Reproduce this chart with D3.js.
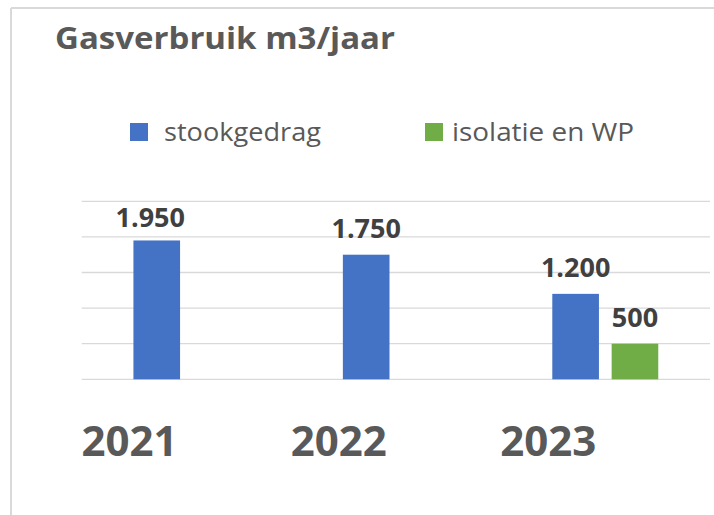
<!DOCTYPE html>
<html>
<head>
<meta charset="utf-8">
<script src="https://cdn.jsdelivr.net/npm/d3@7"></script>
<style>
  body { margin: 0; background: #fff; }
  svg { display: block; font-family: "Open Sans", sans-serif; }
</style>
</head>
<body>
<svg id="chart" width="714" height="515"></svg>
<script>
// data
const years = ["2021", "2022", "2023"];
const seriesNames = ["stookgedrag", "isolatie en WP"];
const stookgedrag = [1950, 1750, 1200];
const isolatie = [null, null, 500];
const gridValues = [0, 500, 1000, 1500, 2000, 2500];
const title = "Gasverbruik m3/jaar";

const colors = { "stookgedrag": "#4472C4", "isolatie en WP": "#70AD47" };

// label format: 1950 -> 1.950
const fmt = v => d3.format(",")(v).replace(/,/g, ".");

const svg = d3.select("#chart");

// chart frame (top and left edge of the original box)
svg.append("line").attr("x1", 11).attr("x2", 714).attr("y1", 8).attr("y2", 8)
  .attr("stroke", "#d9d9d9").attr("stroke-width", 2);
svg.append("line").attr("x1", 11).attr("x2", 11).attr("y1", 8).attr("y2", 515)
  .attr("stroke", "#d9d9d9").attr("stroke-width", 2);

// title
svg.append("text")
  .attr("x", 55).attr("y", 49)
  .attr("font-size", 31).attr("font-weight", 700)
  .attr("fill", "#595959")
  .attr("textLength", 340).attr("lengthAdjust", "spacingAndGlyphs")
  .text(title);

// legend
const legendPos = [{ x: 130, w: 157 }, { x: 425, w: 182 }];
const legend = svg.append("g").selectAll("g")
  .data(seriesNames)
  .join("g")
  .attr("transform", (d, i) => `translate(${legendPos[i].x},123)`);
legend.append("rect").attr("width", 18).attr("height", 18)
  .attr("fill", d => colors[d]);
legend.append("text")
  .attr("x", (d, i) => i === 0 ? 34 : 27).attr("y", 18)
  .attr("font-size", 25).attr("fill", "#595959")
  .attr("textLength", (d, i) => legendPos[i].w).attr("lengthAdjust", "spacingAndGlyphs")
  .text(d => d);

// scales
const x0 = d3.scaleBand()
  .domain(years)
  .range([81.7, 710])
  .paddingInner(0.494)
  .paddingOuter(0.247);

const x1 = d3.scaleBand()
  .domain(seriesNames)
  .range([0, x0.bandwidth()])
  .paddingInner(0.214)
  .paddingOuter(0);

const y = d3.scaleLinear()
  .domain([0, 2500])
  .range([379.3, 201.3]);

// gridlines
svg.append("g").selectAll("line")
  .data(gridValues)
  .join("line")
  .attr("x1", 81.7).attr("x2", 710)
  .attr("y1", d => y(d)).attr("y2", d => y(d))
  .attr("stroke", "#d9d9d9").attr("stroke-width", 1.3);

// bars
const rows = years.map((yr, i) => ({
  year: yr,
  values: [
    { key: seriesNames[0], value: stookgedrag[i] },
    { key: seriesNames[1], value: isolatie[i] }
  ].filter(d => d.value != null)
}));

const groups = svg.append("g").selectAll("g")
  .data(rows)
  .join("g")
  .attr("transform", d => `translate(${x0(d.year)},0)`);

groups.selectAll("rect")
  .data(d => d.values)
  .join("rect")
  .attr("x", d => x1(d.key))
  .attr("width", x1.bandwidth())
  .attr("y", d => y(d.value))
  .attr("height", d => y(0) - y(d.value))
  .attr("fill", d => colors[d.key]);

// data labels; the 2021 label sits a little off-centre in the original
groups.selectAll("text")
  .data((d, gi) => d.values.map(v => ({ ...v, gi })))
  .join("text")
  .attr("x", d => x1(d.key) + x1.bandwidth() / 2 + (d.gi === 0 ? -6.5 : 0))
  .attr("y", d => y(d.value) - (d.gi === 0 ? 13.6 : 17))
  .attr("text-anchor", "middle")
  .attr("font-size", 27).attr("font-weight", 700)
  .attr("fill", "#404040")
  .text(d => fmt(d.value));

// category labels (placed left of the groups as in the source)
svg.append("g").selectAll("text")
  .data(years)
  .join("text")
  .attr("x", d => x0(d) + x0.bandwidth() / 2 - 57)
  .attr("y", 455.7)
  .attr("text-anchor", "middle")
  .attr("font-size", 42).attr("font-weight", 700)
  .attr("fill", "#595959")
  .text(d => d);
</script>
</body>
</html>
